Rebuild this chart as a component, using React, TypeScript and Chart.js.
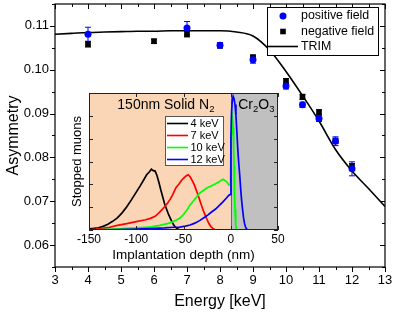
import React, { useEffect, useRef } from 'react';
import { Chart, registerables } from 'chart.js';
Chart.register(...registerables);

const FONT = '"Liberation Sans", Arial, Helvetica, sans-serif';

// ---------- main chart data ----------
const xTickValues = [3, 4, 5, 6, 7, 8, 9, 10, 11, 12, 13];
const xTickLabels = ['3', '4', '5', '6', '7', '8', '9', '10', '11', '12', '13'];
const yTickValues = [0.06, 0.07, 0.08, 0.09, 0.1, 0.11];
const yTickLabels = ['0.06', '0.07', '0.08', '0.09', '0.10', '0.11'];

const posLabel = 'positive field';
const posE = [4, 7, 8, 9, 10, 10.5, 11, 11.5, 12];
const posA = [0.1081, 0.1095, 0.1056, 0.1023, 0.0963, 0.092, 0.0889, 0.0837, 0.0774];
const posErr = [0.0016, 0.0015, 0.0006, 0.0008, 0.0007, 0.0006, 0.0007, 0.001, 0.0016];

const negLabel = 'negative field';
const negE = [4, 6, 7, 8, 9, 10, 10.5, 11, 11.5, 12];
const negA = [0.1058, 0.1065, 0.1081, 0.1055, 0.1028, 0.0974, 0.0938, 0.0903, 0.0838, 0.078];
const negErr = [0.0006, 0.0005, 0.0006, 0.0005, 0.0006, 0.0006, 0.0006, 0.0006, 0.0006, 0.0006];

const trimLabel = 'TRIM';
const trimE = [3, 3.5, 4, 4.5, 5, 5.5, 6, 6.5, 7, 7.5, 8, 8.5, 9, 9.5, 10, 10.5, 11, 11.5, 12, 12.5, 13];
const trimA = [0.1081, 0.1083, 0.1085, 0.1086, 0.1087, 0.1088, 0.1088, 0.1089, 0.1089, 0.1089, 0.1089, 0.1086, 0.1077, 0.1045, 0.0996, 0.0941, 0.0883, 0.0818, 0.0769, 0.0729, 0.0688];

// ---------- inset data ----------
const insetXTicks = [-150, -100, -50, 0, 50];
const insetXTickLabels = ['-150', '-100', '-50', '0', '50'];
const insetYTicks = [0, 1, 2, 3, 4, 5, 6];

const lab4 = '4 keV';
const depth4 = [-150, -145, -140, -135, -130, -125, -120, -115, -110, -105, -100, -96, -92, -89, -86, -84, -82, -80, -78, -76, -74, -72, -70, -68, -66, -64, -62, -60, -58, -56, -54, -50, 0, 50];
const stop4 = [0.05, 0.07, 0.1, 0.16, 0.25, 0.38, 0.53, 0.75, 1.02, 1.33, 1.66, 1.92, 2.2, 2.42, 2.55, 2.66, 2.6, 2.58, 2.38, 2.08, 1.75, 1.45, 1.15, 0.92, 0.7, 0.52, 0.34, 0.2, 0.1, 0.04, 0.01, 0, 0, 0];

const lab7 = '7 keV';
const depth7 = [-150, -140, -130, -120, -110, -100, -90, -85, -80, -76, -73, -70, -67, -64, -61, -58, -55, -52, -49, -47, -45, -43, -41, -39, -37, -35, -33, -31, -29, -27, -25, -23, -21, -19, -17, -15, 0, 50];
const stop7 = [0.0, 0.05, 0.1, 0.2, 0.28, 0.37, 0.45, 0.51, 0.6, 0.75, 0.88, 1.02, 1.17, 1.35, 1.58, 1.85, 2.0, 2.18, 2.3, 2.38, 2.42, 2.33, 2.18, 2.02, 1.8, 1.58, 1.33, 1.08, 0.85, 0.64, 0.45, 0.27, 0.15, 0.07, 0.02, 0, 0, 0];

const lab10 = '10 keV';
const depth10 = [-150, -130, -110, -100, -90, -84, -75, -66, -60, -54, -50, -46, -43, -40, -36, -33, -29, -25, -22, -18, -15, -12, -10, -8, -6, -4, -2, -0.3, 0.3, 1, 1.5, 2.5, 3, 3.5, 4, 4.5, 5, 5.5, 6, 7, 50];
const stop10 = [0, 0.03, 0.07, 0.09, 0.12, 0.14, 0.2, 0.29, 0.38, 0.51, 0.68, 0.9, 1.1, 1.25, 1.45, 1.61, 1.73, 1.85, 1.9, 1.98, 2.05, 2.12, 2.18, 2.22, 2.16, 2.1, 1.97, 2.0, 4.2, 4.9, 5.0, 4.5, 3.7, 2.8, 1.6, 0.9, 0.45, 0.2, 0.07, 0, 0];

const lab12 = '12 keV';
const depth12 = [-150, -120, -100, -80, -70, -60, -54, -48, -43, -38, -33, -28, -24, -20, -16, -12, -8, -5, -2, -0.2, 0.2, 0.8, 1.5, 2.5, 3.5, 4.5, 5.5, 6.5, 7.5, 8.5, 9.5, 10.5, 11.5, 12.5, 13.5, 14.5, 15.5, 16.5, 17.5, 19, 50];
const stop12 = [0, 0.02, 0.04, 0.07, 0.09, 0.12, 0.13, 0.17, 0.22, 0.3, 0.41, 0.55, 0.66, 0.8, 0.92, 1.08, 1.24, 1.38, 1.52, 1.56, 4.0, 5.1, 5.6, 5.85, 5.75, 5.5, 5.0, 4.3, 3.5, 2.9, 2.4, 1.8, 1.3, 0.9, 0.55, 0.3, 0.15, 0.06, 0.02, 0, 0];

const pts = (xs: number[], ys: number[]) => xs.map((x, i) => ({ x, y: ys[i] }));

function drawErr(ctx: CanvasRenderingContext2D, xs: any, ys: any, E: number[], A: number[], err: number[], color: string) {
  ctx.strokeStyle = color;
  ctx.lineWidth = 1;
  for (let i = 0; i < E.length; i++) {
    const px = xs.getPixelForValue(E[i]);
    const p1 = ys.getPixelForValue(A[i] + err[i]);
    const p2 = ys.getPixelForValue(A[i] - err[i]);
    ctx.beginPath();
    ctx.moveTo(px, p1);
    ctx.lineTo(px, p2);
    ctx.moveTo(px - 3, p1);
    ctx.lineTo(px + 3, p1);
    ctx.moveTo(px - 3, p2);
    ctx.lineTo(px + 3, p2);
    ctx.stroke();
  }
}

function MainChart() {
  const ref = useRef<HTMLCanvasElement>(null);
  useEffect(() => {
    const canvas = ref.current!;
    const decor = {
      id: 'mainDecor',
      beforeDatasetsDraw(chart: any) {
        const { ctx, scales } = chart;
        ctx.save();
        drawErr(ctx, scales.x, scales.y, negE, negA, negErr, '#000000');
        drawErr(ctx, scales.x, scales.y, posE, posA, posErr, '#0000ff');
        ctx.restore();
      },
      afterDraw(chart: any) {
        const { ctx, chartArea: a, scales } = chart;
        const sx = scales.x, sy = scales.y;
        ctx.save();
        ctx.strokeStyle = '#000';
        ctx.lineWidth = 1.2;
        ctx.strokeRect(a.left, a.top, a.right - a.left, a.bottom - a.top);
        ctx.lineWidth = 1;
        ctx.beginPath();
        xTickValues.forEach((v, i) => {
          const px = Math.round(sx.getPixelForValue(v)) + 0.5;
          ctx.moveTo(px, a.bottom); ctx.lineTo(px, a.bottom + 5);
          ctx.moveTo(px, a.top); ctx.lineTo(px, a.top + 5);
          if (i < xTickValues.length - 1) {
            const m = Math.round(sx.getPixelForValue((v + xTickValues[i + 1]) / 2)) + 0.5;
            ctx.moveTo(m, a.bottom); ctx.lineTo(m, a.bottom + 3);
            ctx.moveTo(m, a.top); ctx.lineTo(m, a.top + 3);
          }
        });
        const yMinor = [0.055, 0.065, 0.075, 0.085, 0.095, 0.105, 0.115];
        yTickValues.forEach((v) => {
          const py = Math.round(sy.getPixelForValue(v)) + 0.5;
          ctx.moveTo(a.left, py); ctx.lineTo(a.left - 5, py);
          ctx.moveTo(a.right, py); ctx.lineTo(a.right - 5, py);
        });
        yMinor.forEach((v) => {
          const py = Math.round(sy.getPixelForValue(v)) + 0.5;
          ctx.moveTo(a.left, py); ctx.lineTo(a.left - 3, py);
          ctx.moveTo(a.right, py); ctx.lineTo(a.right - 3, py);
        });
        ctx.stroke();

        ctx.fillStyle = '#000';
        ctx.font = `13px ${FONT}`;
        ctx.textAlign = 'right';
        ctx.textBaseline = 'middle';
        yTickValues.forEach((v, i) => ctx.fillText(yTickLabels[i], a.left - 6, sy.getPixelForValue(v)));
        ctx.textAlign = 'center';
        xTickValues.forEach((v, i) => ctx.fillText(xTickLabels[i], sx.getPixelForValue(v), a.bottom + 13));
        ctx.font = `16px ${FONT}`;
        ctx.fillText('Energy [keV]', (a.left + a.right) / 2, a.bottom + 35);
        ctx.save();
        ctx.translate(14, (a.top + a.bottom) / 2);
        ctx.rotate(-Math.PI / 2);
        ctx.fillText('Asymmetry', 0, 0);
        ctx.restore();

        // legend
        const lx = 267, ly = 7, lw = 111, lh = 48;
        ctx.fillStyle = '#fff';
        ctx.fillRect(lx, ly, lw, lh);
        ctx.strokeStyle = '#000';
        ctx.lineWidth = 1;
        ctx.strokeRect(lx + 0.5, ly + 0.5, lw, lh);
        ctx.fillStyle = '#0000ff';
        ctx.beginPath();
        ctx.arc(283, 16, 3.5, 0, Math.PI * 2);
        ctx.fill();
        ctx.fillStyle = '#000';
        ctx.fillRect(280.2, 28.7, 5.6, 5.6);
        ctx.lineWidth = 1.6;
        ctx.beginPath();
        ctx.moveTo(268, 46.5); ctx.lineTo(298, 46.5);
        ctx.stroke();
        ctx.font = `12.4px ${FONT}`;
        ctx.textAlign = 'left';
        ctx.fillText(posLabel, 301, 16);
        ctx.fillText(negLabel, 301, 31.5);
        ctx.fillText(trimLabel, 301, 46.5);
        ctx.restore();
      },
    };
    const chart = new Chart(canvas, {
      type: 'scatter',
      data: {
        datasets: [
          {
            label: posLabel, data: pts(posE, posA), pointStyle: 'circle', pointRadius: 3.5,
            backgroundColor: '#0000ff', borderColor: '#0000ff', borderWidth: 0, showLine: false, order: 0,
          },
          {
            label: negLabel, data: pts(negE, negA), pointStyle: 'rect', pointRadius: 4,
            backgroundColor: '#000', borderColor: '#000', borderWidth: 0, showLine: false, order: 1,
          },
          {
            label: trimLabel, data: pts(trimE, trimA), pointRadius: 0, showLine: true,
            borderColor: '#000', borderWidth: 1.6, cubicInterpolationMode: 'monotone', order: 2,
          },
        ],
      },
      options: {
        responsive: false,
        animation: false,
        layout: { padding: { left: 55, right: 10, top: 2, bottom: 46 } },
        scales: {
          x: { type: 'linear', min: 3, max: 13, display: false },
          y: { type: 'linear', min: 0.055, max: 0.115, display: false },
        },
        plugins: { legend: { display: false }, tooltip: { enabled: false } },
      } as any,
      plugins: [decor],
    });
    return () => chart.destroy();
  }, []);
  return <canvas ref={ref} width={395} height={313} style={{ position: 'absolute', left: 0, top: 0 }} />;
}

function drawSubText(ctx: CanvasRenderingContext2D, parts: [string, boolean][], cx: number, cy: number, size: number) {
  const sub = size * 0.68;
  let w = 0;
  parts.forEach(([t, s]) => {
    ctx.font = `${s ? sub : size}px ${FONT}`;
    w += ctx.measureText(t).width;
  });
  let x = cx - w / 2;
  ctx.textAlign = 'left';
  ctx.textBaseline = 'middle';
  parts.forEach(([t, s]) => {
    ctx.font = `${s ? sub : size}px ${FONT}`;
    ctx.fillText(t, x, s ? cy + size * 0.3 : cy);
    x += ctx.measureText(t).width;
  });
}

function InsetChart() {
  const ref = useRef<HTMLCanvasElement>(null);
  useEffect(() => {
    const canvas = ref.current!;
    const decor = {
      id: 'insetDecor',
      beforeDatasetsDraw(chart: any) {
        const { ctx, chartArea: a, scales } = chart;
        const x0 = scales.x.getPixelForValue(0);
        ctx.save();
        ctx.fillStyle = '#fad6b6';
        ctx.fillRect(a.left, a.top, x0 - a.left, a.bottom - a.top);
        ctx.fillStyle = '#c0c0c0';
        ctx.fillRect(x0, a.top, a.right - x0, a.bottom - a.top);
        ctx.strokeStyle = '#666';
        ctx.lineWidth = 1;
        ctx.beginPath();
        ctx.moveTo(Math.round(x0) + 0.5, a.top);
        ctx.lineTo(Math.round(x0) + 0.5, a.bottom);
        ctx.stroke();
        ctx.fillStyle = '#000';
        drawSubText(ctx, [['150nm Solid N', false], ['2', true]], (a.left + x0) / 2 + 6, a.top + 12, 14);
        drawSubText(ctx, [['Cr', false], ['2', true], ['O', false], ['3', true]], (x0 + a.right) / 2 + 2, a.top + 12, 14);
        ctx.restore();
      },
      afterDraw(chart: any) {
        const { ctx, chartArea: a, scales } = chart;
        const sx = scales.x, sy = scales.y;
        ctx.save();
        // legend
        const lx = 105.5, ly = 31.5, lw = 58, lh = 49;
        ctx.fillStyle = '#fff';
        ctx.fillRect(lx, ly, lw, lh);
        ctx.strokeStyle = '#555';
        ctx.lineWidth = 1;
        ctx.strokeRect(lx, ly, lw, lh);
        const entries: [string, string][] = [[lab4, '#000000'], [lab7, '#ff0000'], [lab10, '#00ff00'], [lab12, '#0000ff']];
        ctx.font = `11px ${FONT}`;
        ctx.textAlign = 'left';
        ctx.textBaseline = 'middle';
        entries.forEach(([t, c], i) => {
          const yy = 38.5 + i * 12;
          ctx.strokeStyle = c;
          ctx.lineWidth = 1.6;
          ctx.beginPath();
          ctx.moveTo(107, yy); ctx.lineTo(128, yy);
          ctx.stroke();
          ctx.fillStyle = '#000';
          ctx.fillText(t, 130.5, yy);
        });
        // frame
        ctx.strokeStyle = '#222';
        ctx.lineWidth = 1;
        ctx.strokeRect(a.left + 0.5, a.top + 0.5, a.right - a.left - 1, a.bottom - a.top - 1);
        ctx.beginPath();
        insetXTicks.forEach((v) => {
          const px = Math.round(sx.getPixelForValue(v)) + 0.5;
          ctx.moveTo(px, a.bottom); ctx.lineTo(px, a.bottom - 4);
          ctx.moveTo(px, a.top); ctx.lineTo(px, a.top + 4);
        });
        insetYTicks.forEach((v) => {
          const py = Math.round(sy.getPixelForValue(v)) + 0.5;
          ctx.moveTo(a.left, py); ctx.lineTo(a.left + 4, py);
          ctx.moveTo(a.right, py); ctx.lineTo(a.right - 4, py);
        });
        ctx.stroke();
        ctx.fillStyle = '#000';
        ctx.font = `12px ${FONT}`;
        ctx.textAlign = 'center';
        ctx.textBaseline = 'middle';
        insetXTicks.forEach((v, i) => ctx.fillText(insetXTickLabels[i], sx.getPixelForValue(v), a.bottom + 10));
        ctx.font = `13.5px ${FONT}`;
        ctx.fillText('Implantation depth (nm)', (a.left + a.right) / 2, a.bottom + 25);
        ctx.save();
        ctx.translate(17, (a.top + a.bottom) / 2);
        ctx.rotate(-Math.PI / 2);
        ctx.font = `13px ${FONT}`;
        ctx.fillText('Stopped muons', 0, 0);
        ctx.restore();
        ctx.restore();
      },
    };
    const ds = (label: string, xs: number[], ys: number[], color: string, order: number) => ({
      label, data: pts(xs, ys), borderColor: color, backgroundColor: color, borderWidth: 1.7,
      pointRadius: 0, showLine: true, tension: 0, order,
    });
    const chart = new Chart(canvas, {
      type: 'scatter',
      data: {
        datasets: [
          ds(lab4, depth4, stop4, '#000000', 3),
          ds(lab7, depth7, stop7, '#ff0000', 2),
          ds(lab10, depth10, stop10, '#00ff00', 1),
          ds(lab12, depth12, stop12, '#0000ff', 0),
        ],
      },
      options: {
        responsive: false,
        animation: false,
        layout: { padding: { left: 29, right: 7, top: 8, bottom: 35 } },
        scales: {
          x: { type: 'linear', min: -150, max: 50, display: false },
          y: { type: 'linear', min: 0, max: 6, display: false },
        },
        plugins: { legend: { display: false }, tooltip: { enabled: false } },
      } as any,
      plugins: [decor],
    });
    return () => chart.destroy();
  }, []);
  return <canvas ref={ref} width={225} height={180} style={{ position: 'absolute', left: 60, top: 85 }} />;
}

export default function App() {
  return (
    <div style={{ position: 'fixed', left: 0, top: 0, width: 395, height: 313, background: '#fff', overflow: 'hidden' }}>
      <MainChart />
      <InsetChart />
    </div>
  );
}
